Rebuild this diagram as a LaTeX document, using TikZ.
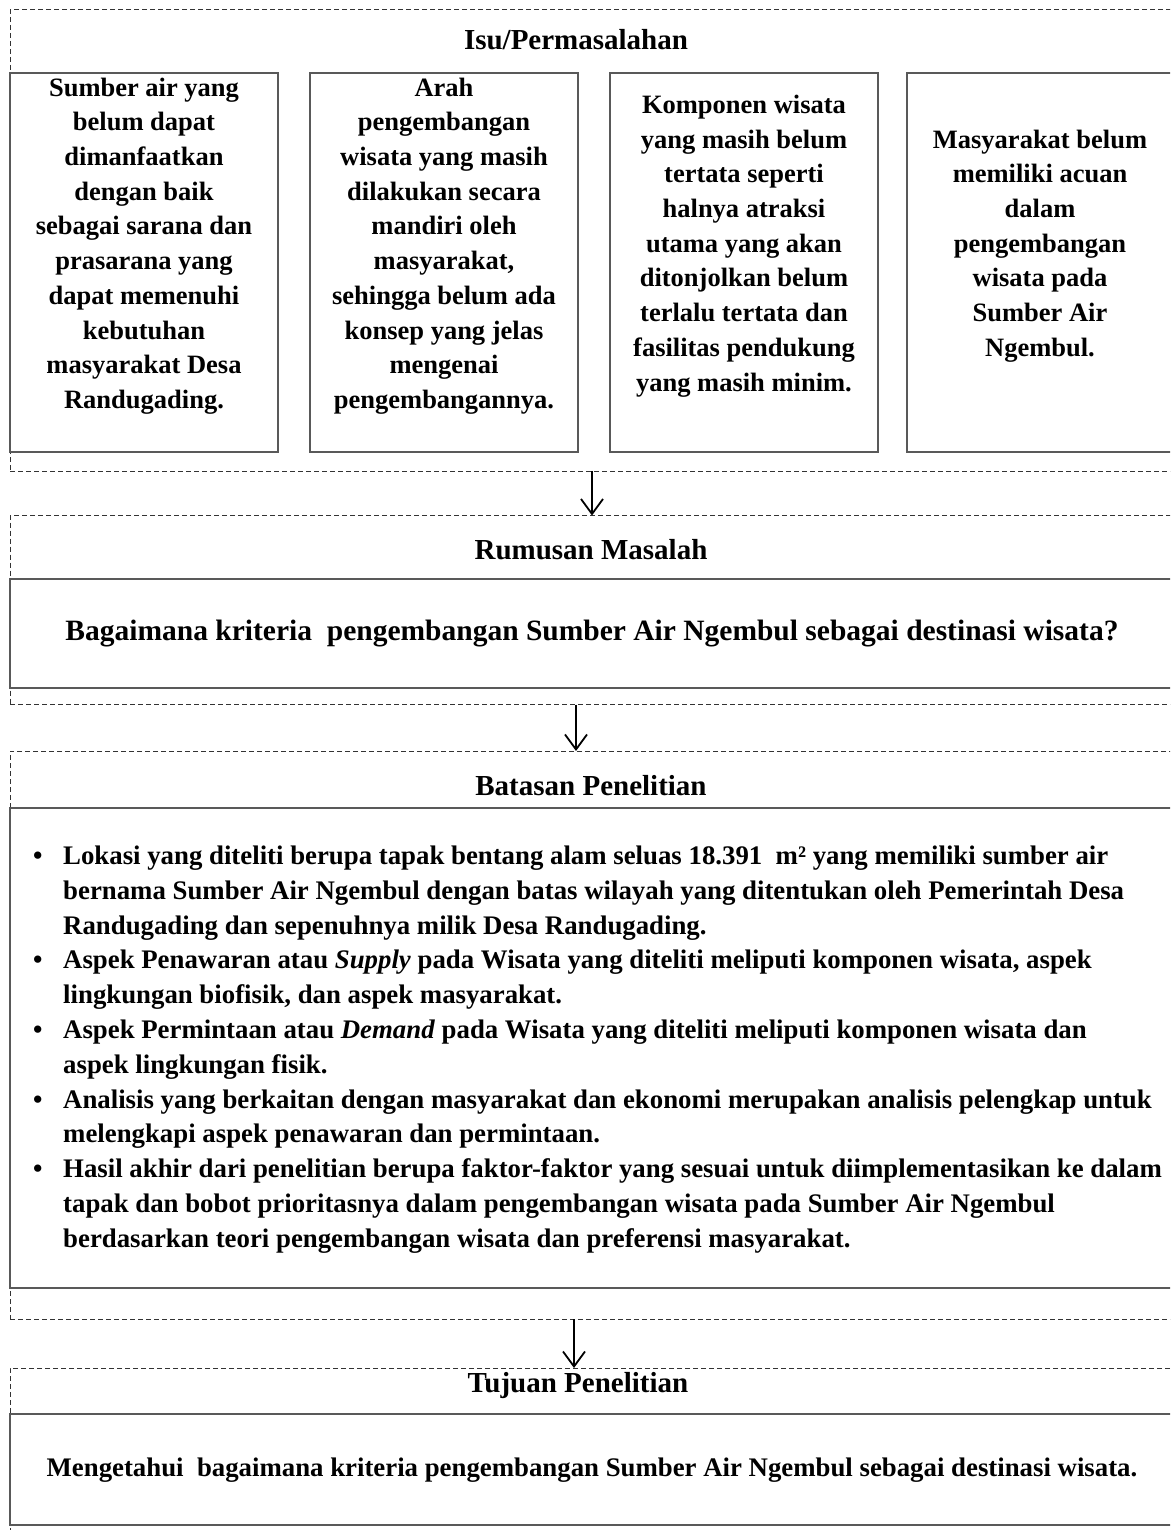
\documentclass[tikz,border=0pt]{standalone}
\usepackage{fontspec}
\setmainfont{Liberation Serif}
\usetikzlibrary{arrows.meta}
\begin{document}
\begin{tikzpicture}[x=1pt,y=-1pt,
  panel/.style={draw=black!80, line width=1pt, dash pattern=on 5pt off 3pt, anchor=north west, inner sep=0pt, outer sep=0pt},
  sbox/.style={draw=black!65, line width=1.6pt, anchor=north west, inner sep=0pt, outer sep=0pt},
  ttl/.style={font=\fontsize{29}{34.7}\bfseries\selectfont, inner sep=0pt},
  boxtext/.style={font=\fontsize{26.5}{34.7}\bfseries\selectfont, inner sep=0pt, align=center},
  bigtext/.style={font=\fontsize{29.5}{36}\bfseries\selectfont, inner sep=0pt},
  smalltext/.style={font=\fontsize{26.8}{34}\bfseries\selectfont, inner sep=0pt},
  listtext/.style={font=\fontsize{26.8}{34.8}\bfseries\selectfont, inner sep=0pt, align=left, anchor=west},
  arr/.style={draw=black, line width=1.8pt, -{Straight Barb[length=15pt,width=22pt,line width=1.8pt]}}
]
\useasboundingbox (0,0) rectangle (1170,1530);
\path[clip] (0,0) rectangle (1170,1530);
% panels
\node[panel, minimum width=1170pt, minimum height=461pt] (p1) at (10,10) {};
\node[panel, minimum width=1170pt, minimum height=189pt] (p2) at (10,515.5) {};
\node[panel, minimum width=1170pt, minimum height=568pt] (p3) at (10,751) {};
\node[panel, minimum width=1170pt, minimum height=172pt] (p4) at (10,1368) {};
% boxes
\node[sbox, minimum width=268pt, minimum height=379pt] (b1) at (10,73) {};
\node[sbox, minimum width=268pt, minimum height=379pt] (b2) at (310,73) {};
\node[sbox, minimum width=268pt, minimum height=379pt] (b3) at (610,73) {};
\node[sbox, minimum width=273pt, minimum height=379pt] (b4) at (907,73) {};
\node[sbox, minimum width=1170pt, minimum height=109pt] (rb) at (10,579) {};
\node[sbox, minimum width=1170pt, minimum height=480pt] (bb) at (10,808) {};
\node[sbox, minimum width=1170pt, minimum height=111pt] (tb) at (10,1414) {};
% titles
\node[ttl] (t1) at (576,40) {Isu/Permasalahan};
\node[ttl] (t2) at (591,550) {Rumusan Masalah};
\node[ttl] (t3) at (591,786) {Batasan Penelitian};
\node[ttl] (t4) at (578,1386) {Tujuan Penelitian};
% box texts
\node[boxtext] (x1) at (144,246) {Sumber air yang\\belum dapat\\dimanfaatkan\\dengan baik\\sebagai sarana dan\\prasarana yang\\dapat memenuhi\\kebutuhan\\masyarakat Desa\\Randugading.};
\node[boxtext] (x2) at (444,246) {Arah\\pengembangan\\wisata yang masih\\dilakukan secara\\mandiri oleh\\masyarakat,\\sehingga belum ada\\konsep yang jelas\\mengenai\\pengembangannya.};
\node[boxtext] (x3) at (744,246) {Komponen wisata\\yang masih belum\\tertata seperti\\halnya atraksi\\utama yang akan\\ditonjolkan belum\\terlalu tertata dan\\fasilitas pendukung\\yang masih minim.};
\node[boxtext] (x4) at (1040,246) {Masyarakat belum\\memiliki acuan\\dalam\\pengembangan\\wisata pada\\Sumber Air\\Ngembul.};
\node[bigtext] (rq) at (592,634) {Bagaimana kriteria\ \ pengembangan Sumber Air Ngembul sebagai destinasi wisata?};
\node[smalltext] (tq) at (592,1470) {Mengetahui\ \ bagaimana kriteria pengembangan Sumber Air Ngembul sebagai destinasi wisata.};
% list
\newcommand{\bul}{\makebox[30pt][l]{\textbullet}}
\newcommand{\ind}{\hspace*{30pt}}
\node[listtext] (lst) at (33,1049.5) {%
\bul Lokasi yang diteliti berupa tapak bentang alam seluas 18.391\ \ m² yang memiliki sumber air\\
\ind bernama Sumber Air Ngembul dengan batas wilayah yang ditentukan oleh Pemerintah Desa\\
\ind Randugading dan sepenuhnya milik Desa Randugading.\\
\bul Aspek Penawaran atau \textit{Supply} pada Wisata yang diteliti meliputi komponen wisata, aspek\\
\ind lingkungan biofisik, dan aspek masyarakat.\\
\bul Aspek Permintaan atau \textit{Demand} pada Wisata yang diteliti meliputi komponen wisata dan\\
\ind aspek lingkungan fisik.\\
\bul Analisis yang berkaitan dengan masyarakat dan ekonomi merupakan analisis pelengkap untuk\\
\ind melengkapi aspek penawaran dan permintaan.\\
\bul Hasil akhir dari penelitian berupa faktor-faktor yang sesuai untuk diimplementasikan ke dalam\\
\ind tapak dan bobot prioritasnya dalam pengembangan wisata pada Sumber Air Ngembul\\
\ind berdasarkan teori pengembangan wisata dan preferensi masyarakat.};
% arrows
\coordinate (ax1) at (592,0);
\coordinate (ax2) at (576,0);
\coordinate (ax3) at (574,0);
\draw[arr] (p1.south -| ax1) -- (p2.north -| ax1);
\draw[arr] (p2.south -| ax2) -- (p3.north -| ax2);
\draw[arr] (p3.south -| ax3) -- (p4.north -| ax3);
\end{tikzpicture}
\end{document}
